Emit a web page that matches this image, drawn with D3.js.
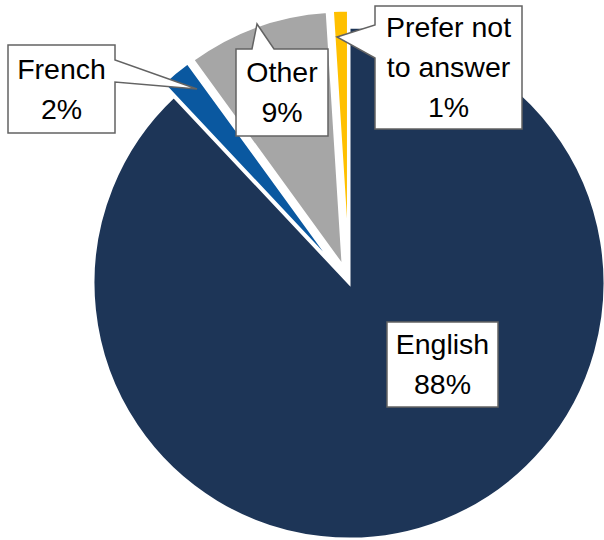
<!DOCTYPE html>
<html><head><meta charset="utf-8">
<script src="https://cdn.jsdelivr.net/npm/d3@7"></script>
<style>html,body{margin:0;padding:0;background:#fff;}</style>
</head><body>
<svg id="c" width="604" height="540"></svg>
<script>
const categories = ["English", "French", "Other", "Prefer not to answer"];
const values = [88, 2, 9, 1];
const labelLines = [["English", "88%"], ["French", "2%"], ["Other", "9%"], ["Prefer not", "to answer", "1%"]];
const colors = ["#1d3557", "#0a58a0", "#a6a6a6", "#ffc000"];
const exploded = [false, true, true, true];

// callout layout: box [x0,y0,x1,y1], pointer side, base range, tip
const callouts = [
  {box:[387,322,498,407], side:null},
  {box:[8,45,115,133], side:"right", base:[60,82], tip:[197,89]},
  {box:[236,49,328,136], side:"top", base:[252,274], tip:[257,24]},
  {box:[375,6,522,129], side:"left", base:[25,58], tip:[337,37]}
];

const svg = d3.select("#c");
const cx = 349, cy = 283, R = 256, explode = 17;
const pie = d3.pie().sort(null).value(d => d)(values);
const arc = d3.arc().innerRadius(0).outerRadius(R);

svg.append("g").attr("transform", `translate(${cx},${cy})`)
  .selectAll("path").data(pie).join("path")
  .attr("d", arc)
  .attr("fill", (d, i) => colors[i])
  .attr("stroke", "#fff").attr("stroke-width", 3).attr("stroke-linejoin", "miter")
  .attr("transform", (d, i) => {
    if (!exploded[i]) return null;
    const a = (d.startAngle + d.endAngle) / 2;
    return `translate(${explode * Math.sin(a)},${-explode * Math.cos(a)})`;
  });

function calloutPath(c) {
  const [x0, y0, x1, y1] = c.box;
  let pts;
  if (c.side === "right") pts = [[x0,y0],[x1,y0],[x1,c.base[0]],c.tip,[x1,c.base[1]],[x1,y1],[x0,y1]];
  else if (c.side === "top") pts = [[x0,y0],[c.base[0],y0],c.tip,[c.base[1],y0],[x1,y0],[x1,y1],[x0,y1]];
  else if (c.side === "left") pts = [[x0,y0],[x1,y0],[x1,y1],[x0,y1],[x0,c.base[1]],c.tip,[x0,c.base[0]]];
  else pts = [[x0,y0],[x1,y0],[x1,y1],[x0,y1]];
  return "M" + pts.map(p => p.join(",")).join("L") + "Z";
}

const lg = svg.append("g");
callouts.forEach((c, i) => {
  lg.append("path").attr("d", calloutPath(c))
    .attr("fill", "#fff").attr("stroke", "#636363").attr("stroke-width", 1.5);
  const lines = labelLines[i];
  const mx = (c.box[0] + c.box[2]) / 2, my = (c.box[1] + c.box[3]) / 2;
  const lh = 40;
  const t = lg.append("text").attr("text-anchor", "middle")
    .attr("font-family", "'Liberation Sans', Arial, sans-serif")
    .attr("font-size", 28.5).attr("fill", "#000");
  lines.forEach((s, k) => {
    t.append("tspan").attr("x", mx)
      .attr("y", my + (k - (lines.length - 1) / 2) * lh)
      .attr("dy", "0.35em").text(s);
  });
});
</script>
</body></html>
